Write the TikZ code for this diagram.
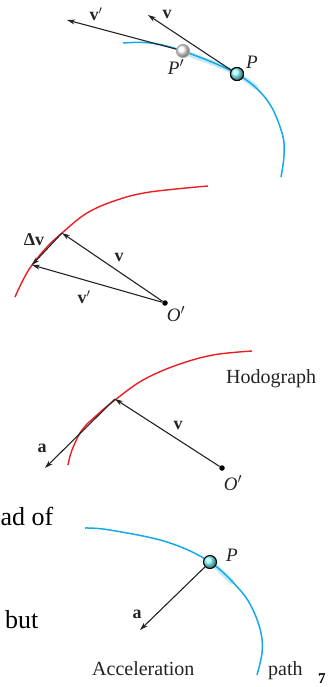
\documentclass[tikz,border=0pt]{standalone}
\usepackage{fontspec}
\setmainfont{Liberation Serif}
\usetikzlibrary{arrows.meta}
\definecolor{pathblue}{RGB}{20,170,230}
\definecolor{hodored}{RGB}{235,30,35}
\definecolor{arrowgray}{RGB}{35,35,35}
\begin{document}
\begin{tikzpicture}[x=1pt,y=-1pt,
  vec/.style={draw=arrowgray, line width=1.1pt, -{Stealth[length=8pt,width=5pt]}},
  bluepath/.style={draw=pathblue, line width=1.5pt},
  glow/.style={draw=pathblue!25, line width=5pt, line cap=round},
  redpath/.style={draw=hodored, line width=1.4pt},
  vlab/.style={font=\fontsize{18}{18}\selectfont\bfseries, text=arrowgray, inner sep=0pt},
  plab/.style={font=\fontsize{19}{19}\selectfont\itshape, text=arrowgray, inner sep=0pt},
  txt/.style={font=\fontsize{20}{20}\selectfont, text=arrowgray, inner sep=0pt, anchor=base west},
  body/.style={font=\fontsize{26}{26}\selectfont, text=black, inner sep=0pt, anchor=base west},
  particle/.style={circle, draw=black, line width=1pt, inner sep=0pt, minimum size=13pt, ball color=cyan!45!white},
  ghost/.style={circle, draw=gray!70, line width=1pt, inner sep=0pt, minimum size=13pt, ball color=white},
  odot/.style={circle, fill=black, inner sep=0pt, minimum size=5.5pt}]
\useasboundingbox (0,0) rectangle (330,687);

% ---------- Panel 1: path with P and P'
\draw[glow] (186,53) .. controls (205,60) and (222,66) .. (236,73) -- (256,87);
\draw[bluepath] plot[smooth, tension=0.6] coordinates {(123,43) (150,43) (183,51) (237,74) (267,100) (282,133) (284,155) (281,177)};
\node[ghost] (Pp) at (183,51) {};
\node[particle] (P) at (237,74) {};
\coordinate (vtip1) at (148,15);
\coordinate (vptip1) at (67,20);
\draw[vec] (Pp) -- (vptip1);
\draw[vec] (P.center) -- (vtip1);
\node[particle] at (237,74) {};
\node[vlab] (lv1) at (167,14) {v};
\node[vlab] (lvp1) at (96,14) {v$'$};
\node[plab] (lP1) at (252,62) {P};
\node[plab] (lPp1) at (176,67) {P$'$};

% ---------- Panel 2: hodograph with v, v', Delta v
\draw[redpath] plot[smooth, tension=0.6] coordinates {(15,297) (23,280) (32,265) (47,247) (62,233) (87,213) (117,200) (150,192) (208,186)};
\node[odot] (O2) at (165,303) {};
\coordinate (h1) at (62,233);
\coordinate (h2) at (32,265);
\draw[vec] (O2) -- (h1);
\draw[vec] (O2) -- (h2);
\draw[vec] (h1) -- (h2);
\node[vlab] (lv2) at (119,257) {v};
\node[vlab] (lvp2) at (84,297) {v$'$};
\node[vlab] (ldv) at (34,240) {Δv};
\node[plab] (lO2) at (176,314) {O$'$};

% ---------- Panel 3: hodograph with a
\draw[redpath] plot[smooth, tension=0.6] coordinates {(68,465) (72,450) (82,430) (97,415) (115,400) (143,380) (177,365) (213,355) (252,351)};
\node[odot] (O3) at (222,468) {};
\coordinate (h3) at (115,399);
\coordinate (atip3) at (45,468);
\draw[vec] (O3) -- (h3);
\draw[vec] (h3) -- (atip3);
\node[vlab] (lv3) at (178,425) {v};
\node[vlab] (la3) at (42,448) {a};
\node[plab] (lO3) at (233,483) {O$'$};
\node[txt] (hodo) at (226,383) {Hodograph};

% ---------- Panel 4: path with acceleration
\draw[glow] (212,563) -- (232,582);
\draw[bluepath] plot[smooth, tension=0.6] coordinates {(85,528) (110,530) (167,542) (210,562) (240,590) (253,610) (261,633) (262,653) (257,675)};
\node[particle] (P4) at (210,562) {};
\coordinate (atip4) at (140,630);
\draw[vec] (P4) -- (atip4);
\node[vlab] (la4) at (137,614) {a};
\node[plab] (lP4) at (232,555) {P};
\node[txt] (acc) at (92,675) {Acceleration};
\node[txt] (pth) at (268,675) {path};

% ---------- surrounding page text
\node[body] (t1) at (0.5,525) {ad of};
\node[body] (t2) at (5,628) {but};
\node[font=\fontsize{15}{15}\selectfont\bfseries, inner sep=0pt, anchor=base west] (num) at (318,683) {7};
\end{tikzpicture}
\end{document}
